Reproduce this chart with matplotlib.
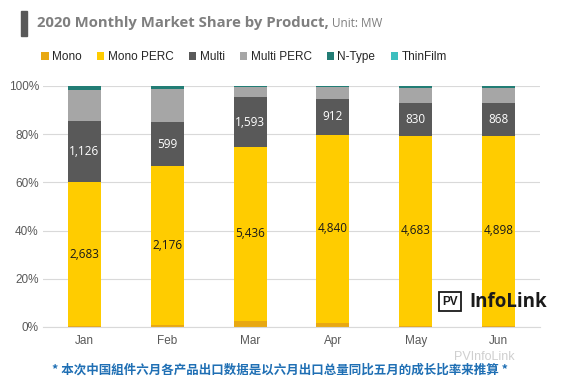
import matplotlib.pyplot as plt
import numpy as np
from matplotlib.patches import Rectangle

plt.rcParams['font.family'] = ['Liberation Sans', 'DejaVu Sans']

# data (share of month total, %)
months = ["Jan", "Feb", "Mar", "Apr", "May", "Jun"]
series = ["Mono", "Mono PERC", "Multi", "Multi PERC", "N-Type", "ThinFilm"]
mono = [0.3, 0.9, 2.6, 1.6, 0.5, 0.5]
mono_perc = [59.9, 65.9, 72.1, 78.2, 78.9, 78.9]
multi = [25.3, 18.2, 20.6, 14.8, 13.5, 13.5]
multi_perc = [12.8, 13.8, 4.4, 5.0, 6.4, 6.3]
n_type = [1.7, 1.2, 0.3, 0.4, 0.7, 0.8]
thinfilm = [0.0, 0.0, 0.0, 0.0, 0.0, 0.0]

# MW values printed on the bars
mono_perc_mw = [2683, 2176, 5436, 4840, 4683, 4898]
multi_mw = [1126, 599, 1593, 912, 830, 868]

colors = ["#E8A812", "#FFCC00", "#595959", "#A6A6A6", "#227D75", "#3DBFBF"]

fig = plt.figure(figsize=(5.61, 3.82), dpi=100)
ax = fig.add_axes([0.0766, 0.144, 0.886, 0.631])

x = np.arange(len(months))
data = [mono, mono_perc, multi, multi_perc, n_type, thinfilm]
bottom = np.zeros(len(months))
bars = []
for vals, c, name in zip(data, colors, series):
    b = ax.bar(x, vals, 0.4, bottom=bottom, color=c, label=name, zorder=2)
    bars.append(b)
    bottom = bottom + np.array(vals)

ax.bar_label(bars[1], labels=[f"{v:,}" for v in mono_perc_mw], label_type='center',
             fontsize=8.5, color='#1a1a1a', family='Open Sans')
ax.bar_label(bars[2], labels=[f"{v:,}" for v in multi_mw], label_type='center',
             fontsize=8.5, color='white', family='Open Sans')

ax.set_xlim(-0.5, 5.5)
ax.set_ylim(0, 100)
ax.set_yticks(np.arange(0, 101, 20))
ax.set_yticklabels([f"{v}%" for v in range(0, 101, 20)])
ax.set_xticks(x)
ax.set_xticklabels(months)
ax.tick_params(length=0, labelsize=8.5, labelcolor='#595959')
ax.tick_params(axis='x', pad=6)
ax.tick_params(axis='y', pad=3)
ax.grid(axis='y', color='#D9D9D9', linewidth=0.8, zorder=0)
for s in ['top', 'right', 'left']:
    ax.spines[s].set_visible(False)
ax.spines['bottom'].set_color('#D9D9D9')

# title with the dark marker bar
fig.patches.append(Rectangle((0.037, 0.905), 0.011, 0.066, transform=fig.transFigure,
                             color='#595959'))
fig.text(0.066, 0.94, "2020 Monthly Market Share by Product,", fontsize=10.7,
         fontweight='bold', color='#7F7F7F', va='center', family='Open Sans')
fig.text(0.592, 0.938, "Unit: MW", fontsize=8.5, color='#7F7F7F', va='center',
         family='Open Sans')

fig.legend(loc='center left', bbox_to_anchor=(0.055, 0.85), ncol=6, frameon=False,
           fontsize=8.5, handlelength=0.6, handleheight=0.6, handletextpad=0.3,
           columnspacing=1.3, labelcolor='#262626')

# logo
fig.text(0.788, 0.21, "PV", fontsize=8.5, fontweight='bold', color='#1a1a1a', va='center',
         bbox=dict(boxstyle='square,pad=0.3', fc='white', ec='#1a1a1a', lw=1.3))
fig.text(0.837, 0.21, "InfoLink", fontsize=13.5, fontweight='bold', color='#1a1a1a',
         va='center', family='Open Sans')

# watermark
fig.text(0.81, 0.066, "PVInfoLink", fontsize=9, color='#CFCFCF', va='center', zorder=0)

fig.text(0.5, 0.03, "* 本次中国組件六月各产品出口数据是以六月出口总量同比五月的成长比率来推算 *",
         fontsize=9, color='#1F6FB4', ha='center', va='center', fontweight='bold',
         family=['Noto Sans CJK SC', 'DejaVu Sans'])

fig.savefig("out.png", dpi=100)
